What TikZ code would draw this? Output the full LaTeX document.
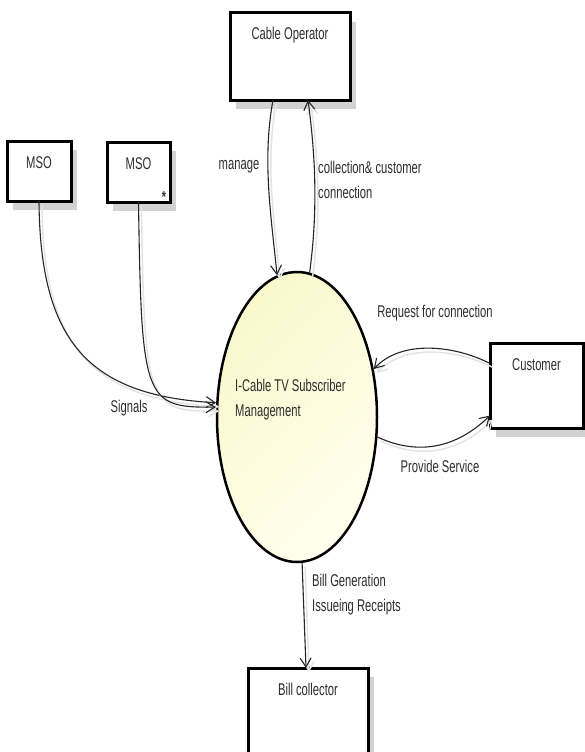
\documentclass[tikz,border=0pt]{standalone}
\usepackage{fontspec}
\setmainfont[FakeStretch=0.66]{Liberation Sans}
\usetikzlibrary{arrows.meta,positioning,calc,shapes.geometric,shadows}
\definecolor{inkD}{HTML}{2E2E2E}
\definecolor{creamL}{HTML}{FFFFEE}
\definecolor{creamD}{HTML}{FAF8CC}
\definecolor{shadowG}{HTML}{D2D2D2}
\tikzset{
  entity/.style={rectangle, draw=black, line width=3pt, fill=white, inner sep=0pt, outer sep=0pt,
                 font=\fontsize{17}{25}\selectfont, text=inkD, anchor=north, text height=27pt,
                 drop shadow={shadow xshift=6pt, shadow yshift=-9pt, draw=none, fill=shadowG, opacity=1}},
  tag/.style={font=\fontsize{17}{25}\selectfont, text=inkD, inner sep=0pt, align=left},
  flow/.style={-{Straight Barb[length=9pt,width=11pt]}, line width=1.1pt, draw=black!85,
               preaction={draw=gray!22, line width=1.4pt, transform canvas={shift={(3pt,-4pt)}}}},
}
\begin{document}
\begin{tikzpicture}[x=1pt, y=-1pt]
        \fill[white] (0,0) rectangle (585,752);
        \useasboundingbox (0,0) rectangle (585,752);
        % external entities
        \node[entity, minimum width=120pt, text depth=60pt] (cable) at (290,13) {Cable Operator};
        \node[entity, minimum width=64pt, text depth=33pt] (mso1) at (39,141) {MSO};
        \node[entity, minimum width=63pt, text depth=33pt] (mso2) at (138.5,142) {MSO};
        \node[entity, minimum width=93pt, text depth=58pt] (cust) at (536.5,343) {Customer};
        \node[entity, minimum width=120pt, text depth=74pt] (bill) at (308,668) {Bill collector};
        \node[tag, font=\bfseries\fontsize{16}{16}\selectfont] (star)
          at ([xshift=-6pt, yshift=5pt]mso2.south east) {*};
        % process
        \node[ellipse, draw=black, line width=2.5pt, minimum width=160pt, minimum height=290pt, inner sep=0pt,
              top color=creamD, bottom color=creamL, shading angle=45] (sys) at (297,417) {};
        \node[tag, anchor=west] (systxt) at ([xshift=-62pt, yshift=17pt]sys.center)
          {I-Cable TV Subscriber\\Management};
        % flows
        \draw[flow] ([xshift=-17pt]cable.south) .. controls +(-11,60) and +(-6,-60) .. (sys.98);
        \draw[flow] (sys.85) .. controls +(8,-60) and +(8,60) .. ([xshift=18pt]cable.south);
        \draw[flow] (mso1.south) .. controls +(1,140) and +(-128,-7) .. (sys.170);
        \draw[flow] (mso2.south) .. controls +(3,198) and +(-72,1) .. (sys.173);
        \draw[flow] ([yshift=22pt]cust.west) .. controls +(-35,-18) and +(28,-30) .. (sys.32);
        \draw[flow] (sys.346) .. controls +(39,18) and +(-35,34) .. ([yshift=-30pt]cust.west);
        \draw[flow] (sys.272) -- ([xshift=-2pt]bill.north);
        % flow labels
        \node[tag] (lmanage) at (239,167) {manage};
        \node[tag, anchor=west] (lcoll) at (318,180) {collection\& customer\\connection};
        \node[tag] (lsig) at (129,408) {Signals};
        \node[tag] (lreq) at (435,313) {Request for connection};
        \node[tag] (lprov) at (440,466) {Provide Service};
        \node[tag, anchor=west] (lbill) at (312,595) {Bill Generation\\Issueing Receipts};
      \end{tikzpicture}
\end{document}
